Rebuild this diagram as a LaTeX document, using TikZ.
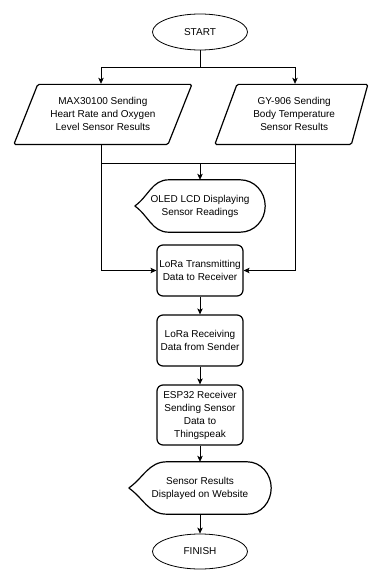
\documentclass[tikz,border=0pt]{standalone}
\usepackage{fontspec}
\setmainfont{Liberation Sans}
\usepackage{tikz}
\usetikzlibrary{shapes.geometric,arrows.meta,calc,positioning}
\tikzset{term/.style={ellipse,draw,line width=0.8pt,minimum width=95pt,minimum height=36pt,inner sep=1pt,font=\fontsize{10}{13}\selectfont},
io/.style={trapezium,draw,line width=1.2pt,rounded corners=1.5pt,trapezium stretches body,minimum height=60pt,inner sep=1pt,align=center,font=\fontsize{10}{13}\selectfont},
proc/.style={rectangle,draw,line width=1.2pt,rounded corners=6pt,minimum width=86pt,inner sep=1pt,align=center,font=\fontsize{10}{13}\selectfont},
disp/.style={rectangle,minimum height=52pt,inner sep=1pt,align=center,font=\fontsize{10}{13}\selectfont},
outline/.style={line width=1.2pt,line join=round},
flow/.style={line width=0.8pt},
flowarrow/.style={line width=0.8pt,-{Stealth[length=6pt,width=5.5pt,inset=1.5pt]}}}

\begin{document}
\begin{tikzpicture}[x=1pt,y=-1pt]
\useasboundingbox (0,0) rectangle (368,575);
\node[term](start)at(200,32){START};
\node[io,trapezium left angle=56,trapezium right angle=124,minimum width=178pt,anchor=bottom left corner](max)at(13,145){MAX30100 Sending\\Heart Rate and Oxygen\\Level Sensor Results};
\node[io,trapezium left angle=58,trapezium right angle=115,minimum width=153pt,anchor=bottom left corner](gy)at(214,145){GY-906 Sending\\Body Temperature\\Sensor Results};
\node[disp,minimum width=130pt](oled)at(200,206){OLED LCD Displaying\\Sensor Readings};
\node[proc,minimum height=51pt](tx)at(200,270.5){LoRa Transmitting\\Data to Receiver};
\node[proc,minimum height=51pt](recv)at(200,340.5){LoRa Receiving\\Data from Sender};
\node[proc,minimum height=60pt](esp)at(200,415){ESP32 Receiver\\Sending Sensor\\Data to\\Thingspeak};
\node[disp,minimum width=142pt](web)at(200,488){Sensor Results\\Displayed on Website};
\node[term,minimum height=35pt](finish)at(200,551.5){FINISH};
% display outlines
\foreach \n/\dl/\dr in {oled/34/25,web/38/24}
\draw[outline](\n.west)to[out=35,in=180]([xshift=\dl pt]\n.north west)--([xshift=-\dr pt]\n.north east)to[out=0,in=90](\n.east)to[out=-90,in=0]([xshift=-\dr pt]\n.south east)--([xshift=\dl pt]\n.south west)to[out=180,in=-35](\n.west);
% connectors
\coordinate(split)at(200,67);
\coordinate(join)at(200,163);
\coordinate(leftx)at(101,0);
\coordinate(rightx)at(295,0);
\draw[flow](start.south)--(split);
\draw[flowarrow](split)-|(leftx|-max.north);
\draw[flowarrow](split)-|(rightx|-gy.north);
\draw[flow](leftx|-join)--(rightx|-join);
\draw[flowarrow](join)--(oled.north);
\draw[flowarrow](leftx|-max.south)|-(tx.west);
\draw[flowarrow](rightx|-gy.south)|-(tx.east);
\draw[flowarrow](tx)--(recv);
\draw[flowarrow](recv)--(esp);
\draw[flowarrow](esp)--(web.north);
\draw[flowarrow](web.south)--(finish);
\end{tikzpicture}
\end{document}
